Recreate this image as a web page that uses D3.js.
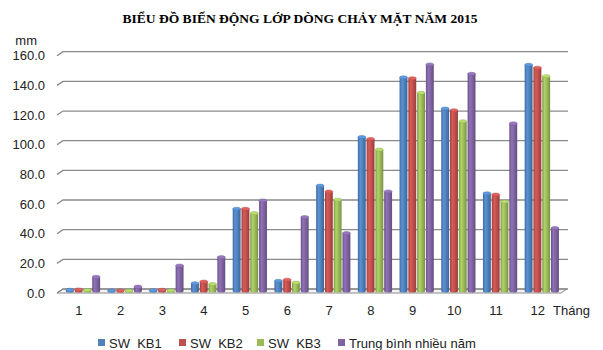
<!DOCTYPE html>
<html>
<head>
<meta charset="utf-8">
<script src="https://cdn.jsdelivr.net/npm/d3@7"></script>
<style>
  html, body { margin: 0; padding: 0; background: #fff; }
  svg { display: block; }
</style>
</head>
<body>
<svg id="chart" width="603" height="350"></svg>
<script>
// Monthly surface runoff depth (mm), 2015, by scenario
const months = ["1", "2", "3", "4", "5", "6", "7", "8", "9", "10", "11", "12"];
const seriesNames = ["SW_KB1", "SW_KB2", "SW_KB3", "Trung bình nhiều năm"];
const swKB1 = [0.8, 0.3, 0.5, 5.2, 55.4, 6.8, 71.0, 103.8, 144.0, 123.0, 65.8, 152.5];
const swKB2 = [1.0, 0.3, 0.8, 6.3, 55.4, 7.6, 67.0, 102.5, 143.4, 121.8, 65.0, 150.5];
const swKB3 = [0.6, 0.2, 0.4, 4.7, 52.5, 5.6, 61.5, 95.3, 133.6, 114.4, 60.3, 144.8];
const avgYears = [9.5, 2.9, 17.1, 22.8, 61.0, 49.8, 39.0, 67.1, 152.7, 146.4, 113.0, 42.4];
const yTicks = [0, 20, 40, 60, 80, 100, 120, 140, 160];
const colors = ["#4F81BD", "#C0504D", "#9BBB59", "#8064A2"];

const seriesValues = [swKB1, swKB2, swKB3, avgYears];

const svg = d3.select("#chart");
const defs = svg.append("defs");

// oblique depth of the 3-D plot box
const depthX = 6, depthY = -4;
const floorLeft = 57, floorRight = 561, floorFront = 293;

// value scale measured at the front plane
const y = d3.scaleLinear().domain([0, 160]).range([floorFront, floorFront - 237.3]);
const x = d3.scaleBand().domain(months).range([58, 558.5]);
const inner = d3.scaleBand().domain(d3.range(4)).range([4, 40]).padding(0.1);

// title
svg.append("text")
  .attr("x", 122.5).attr("y", 22.5)
  .attr("font-family", "'Liberation Serif', 'Times New Roman', serif")
  .attr("font-weight", "bold")
  .attr("font-size", 12.5)
  .attr("textLength", 355)
  .attr("lengthAdjust", "spacingAndGlyphs")
  .attr("fill", "#000")
  .text("BIỂU ĐỒ BIẾN ĐỘNG LỚP DÒNG CHẢY MẶT NĂM 2015");

// unit label
svg.append("text")
  .attr("x", 37).attr("y", 45)
  .attr("text-anchor", "end")
  .attr("font-family", "'Liberation Sans', Arial, sans-serif")
  .attr("font-size", 13)
  .attr("fill", "#222")
  .text("mm");

// floor of the plot box
svg.append("path")
  .attr("d", `M${floorLeft},${floorFront} L${floorRight},${floorFront} L${floorRight + depthX},${floorFront + depthY} L${floorLeft + depthX},${floorFront + depthY} Z`)
  .attr("fill", "#f4f4f4")
  .attr("stroke", "#8a8a8a")
  .attr("stroke-width", 1);

// gridlines on the back wall plus the side-wall slant
const grid = svg.append("g");
yTicks.forEach(t => {
  const yf = y(t), yb = yf + depthY;
  grid.append("path")
    .attr("d", `M${floorLeft},${yf} L${floorLeft + depthX},${yb} L${floorRight + depthX + 1},${yb}`)
    .attr("fill", "none")
    .attr("stroke", "#8a8a8a")
    .attr("stroke-width", 1.3);
});

// y-axis labels
svg.append("g")
  .selectAll("text")
  .data(yTicks)
  .join("text")
  .attr("x", 45)
  .attr("y", d => y(d) + 4.5)
  .attr("text-anchor", "end")
  .attr("font-family", "'Liberation Sans', Arial, sans-serif")
  .attr("font-size", 13)
  .attr("fill", "#222")
  .text(d => d.toFixed(1));

// cylinder shading gradients
colors.forEach((c, i) => {
  const base = d3.color(c);
  const g = defs.append("linearGradient").attr("id", "cyl" + i)
    .attr("x1", "0%").attr("x2", "100%").attr("y1", "0%").attr("y2", "0%");
  g.append("stop").attr("offset", "0%").attr("stop-color", base.darker(0.6));
  g.append("stop").attr("offset", "30%").attr("stop-color", base.brighter(0.35));
  g.append("stop").attr("offset", "60%").attr("stop-color", base);
  g.append("stop").attr("offset", "100%").attr("stop-color", base.darker(0.7));
});

// bars, positioned at mid depth
const midX = depthX / 2, midY = depthY / 2;
const bw = inner.bandwidth();
const ry = 1.6;
const bars = svg.append("g");
months.forEach((m, mi) => {
  seriesValues.forEach((vals, si) => {
    const v = vals[mi];
    const x0 = x(m) + inner(si) + midX;
    const yTop = y(v) + midY;
    const yBase = y(0) + midY;
    const g = bars.append("g");
    g.append("path")
      .attr("d", `M${x0},${yTop} L${x0},${yBase} A${bw / 2},${ry} 0 0 0 ${x0 + bw},${yBase} L${x0 + bw},${yTop} Z`)
      .attr("fill", `url(#cyl${si})`);
    g.append("ellipse")
      .attr("cx", x0 + bw / 2).attr("cy", yTop)
      .attr("rx", bw / 2).attr("ry", ry)
      .attr("fill", d3.color(colors[si]).brighter(0.5))
      .attr("stroke", d3.color(colors[si]).darker(0.3))
      .attr("stroke-width", 0.5);
  });
});

// month labels
svg.append("g")
  .selectAll("text")
  .data(months)
  .join("text")
  .attr("x", d => x(d) + x.bandwidth() / 2)
  .attr("y", 315)
  .attr("text-anchor", "middle")
  .attr("font-family", "'Liberation Sans', Arial, sans-serif")
  .attr("font-size", 13)
  .attr("fill", "#222")
  .text(d => d);

svg.append("text")
  .attr("x", 553).attr("y", 315)
  .attr("font-family", "'Liberation Sans', Arial, sans-serif")
  .attr("font-size", 13)
  .attr("fill", "#222")
  .text("Tháng");

// legend
const legendX = [98, 179, 257, 338];
const legend = svg.append("g");
seriesNames.forEach((name, i) => {
  legend.append("rect")
    .attr("x", legendX[i]).attr("y", 339)
    .attr("width", 7).attr("height", 7)
    .attr("fill", colors[i]);
  legend.append("text")
    .attr("x", legendX[i] + 11).attr("y", 347.5)
    .attr("font-family", "'Liberation Sans', Arial, sans-serif")
    .attr("font-size", 13)
    .attr("fill", "#222")
    .text(name);
});
</script>
</body>
</html>
